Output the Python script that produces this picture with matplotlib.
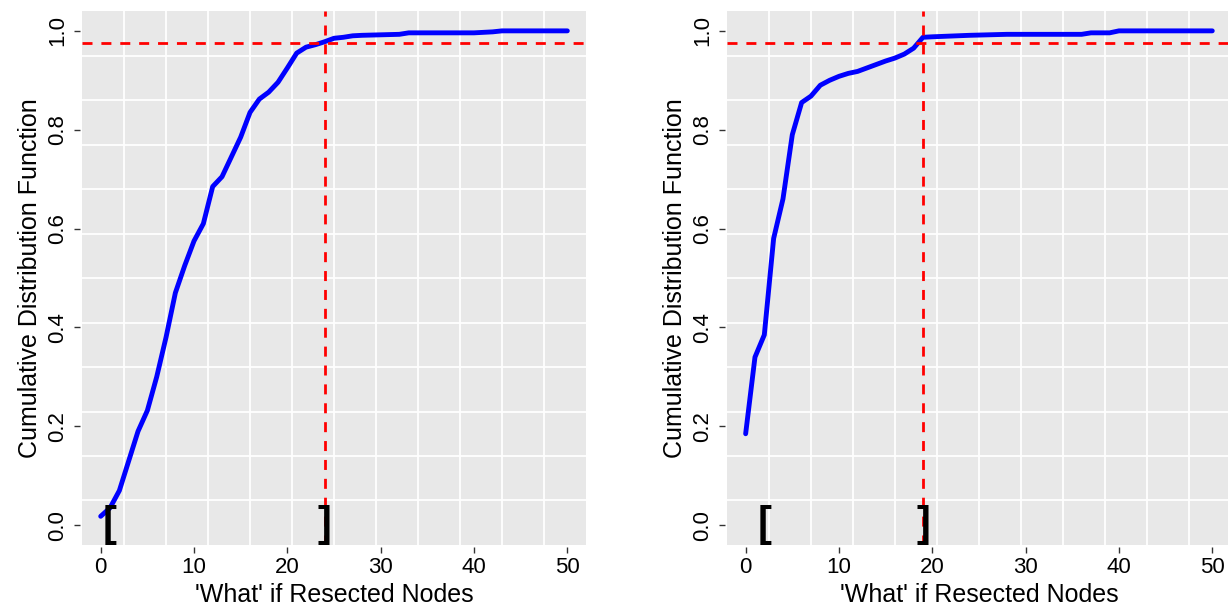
import numpy as np
import matplotlib
matplotlib.use("Agg")
import matplotlib.pyplot as plt

plt.rcParams['font.family'] = ['Liberation Sans', 'DejaVu Sans']

# Werte
x_links = [0, 1, 2, 3, 4, 5, 6, 7, 8, 9, 10, 11, 12, 13, 14, 15, 16, 17, 18, 19,
           20, 21, 22, 23, 24, 25, 26, 27, 28, 30, 32, 33, 40, 42, 43, 50]
cdf_links = [0.018, 0.035, 0.07, 0.13, 0.19, 0.232, 0.30, 0.38, 0.47, 0.525,
             0.575, 0.61, 0.685, 0.705, 0.745, 0.785, 0.835, 0.862, 0.876, 0.896,
             0.925, 0.955, 0.967, 0.972, 0.978, 0.985, 0.987, 0.99, 0.991, 0.992,
             0.993, 0.996, 0.996, 0.998, 1.0, 1.0]

x_rechts = [0, 1, 2, 3, 4, 5, 6, 7, 8, 9, 10, 11, 12, 13, 14, 15, 16, 17, 18, 19,
            20, 24, 28, 36, 37, 39, 40, 50]
cdf_rechts = [0.185, 0.34, 0.385, 0.58, 0.66, 0.79, 0.855, 0.868, 0.89, 0.90,
              0.908, 0.914, 0.918, 0.925, 0.932, 0.939, 0.945, 0.953, 0.965, 0.987,
              0.988, 0.991, 0.993, 0.993, 0.996, 0.996, 1.0, 1.0]

schwelle = 0.975          # horizontale Linie
grenzen_links = (1, 24)   # Intervall links
grenzen_rechts = (2, 19)  # Intervall rechts

xticks = [0, 10, 20, 30, 40, 50]
yticks = [0.0, 0.2, 0.4, 0.6, 0.8, 1.0]
yticklabels = ["0.0", "0.2", "0.4", "0.6", "0.8", "1.0"]

fig = plt.figure(figsize=(12.28, 6.06), dpi=100)
ax1 = fig.add_axes([0.0668, 0.1007, 0.4104, 0.881])
ax2 = fig.add_axes([0.592, 0.1007, 0.4104, 0.881])

def panel(ax, x, y, grenzen):
    xlim = (-2, 52)
    ylim = (-0.04, 1.04)
    ax.set_xlim(xlim)
    ax.set_ylim(ylim)
    ax.set_facecolor("#e8e8e8")
    for s in ax.spines.values():
        s.set_visible(False)
    # Achsen leicht nach aussen, damit die Ticks etwas Abstand haben
    ax.spines['left'].set_position(('outward', 1.5))
    ax.spines['bottom'].set_position(('outward', 1.5))
    # Gitter wie grid(12, 12) in R
    for gx in np.linspace(xlim[0], xlim[1], 13)[1:-1]:
        ax.axvline(gx, color="white", lw=1.3, zorder=1)
    for gy in np.linspace(ylim[0], ylim[1], 13)[1:-1]:
        ax.axhline(gy, color="white", lw=1.3, zorder=1)

    ax.plot(x, y, color="#0000ff", lw=3.5, zorder=3, solid_capstyle="round")
    ax.axhline(schwelle, color="#ff0000", lw=2.0, dashes=(3.6, 3.2), zorder=4)
    ax.axvline(grenzen[1], color="#ff0000", lw=2.0, dashes=(3.6, 3.2), zorder=4)

    ax.text(grenzen[0], 0, "[", fontsize=30, fontweight="bold",
            ha="center", va="center", zorder=5)
    ax.text(grenzen[1], 0, "]", fontsize=30, fontweight="bold",
            ha="center", va="center", zorder=5)

    ax.set_xticks(xticks)
    ax.set_yticks(yticks)
    ax.set_yticklabels(yticklabels, rotation=90, va="center")
    ax.tick_params(axis="both", labelsize=16, length=4.5, width=1,
                   color="#333333", direction="out")
    ax.tick_params(axis="x", pad=3)
    ax.tick_params(axis="y", pad=4)
    ax.set_xlabel("'What' if Resected Nodes", fontsize=18, labelpad=3)
    ax.set_ylabel("Cumulative Distribution Function", fontsize=18, labelpad=4)

panel(ax1, x_links, cdf_links, grenzen_links)
panel(ax2, x_rechts, cdf_rechts, grenzen_rechts)

fig.savefig("out.png", dpi=100)
